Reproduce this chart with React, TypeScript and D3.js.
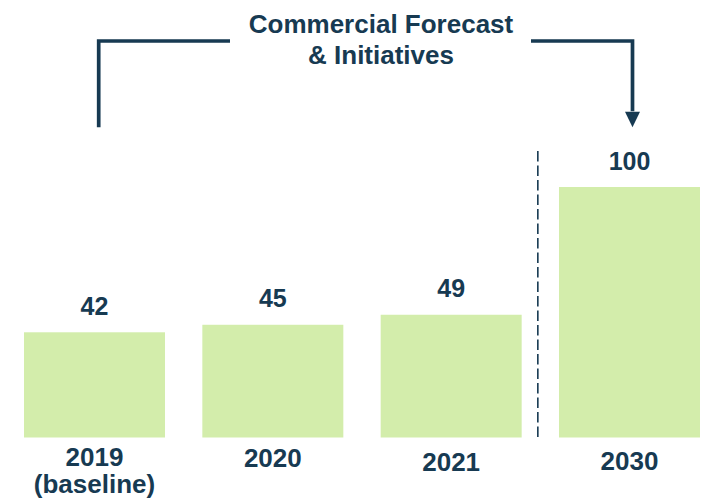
import React from "react";
import * as d3 from "d3";

const categories = ["2019", "2020", "2021", "2030"];
const subLabels = ["(baseline)", "", "", ""];
const values = [42, 45, 49, 100];
const titleLines = ["Commercial Forecast", "& Initiatives"];

const W = 718;
const H = 504;
const NAVY = "#173a52";
const GREEN = "#d3edab";
const FONT = "'Liberation Sans', Arial, Helvetica, sans-serif";
// small per-label vertical nudges seen in the reference
const labelBaselines = [465.7, 466.7, 471.2, 470.2];

export default function App() {
  const x = d3
    .scaleBand<string>()
    .domain(categories)
    .range([5.33, 718.67])
    .paddingInner(0.2094)
    .paddingOuter(0.1047);
  const y = d3.scaleLinear().domain([0, 100]).range([437.5, 187]);

  const bw = x.bandwidth();
  const x2021 = (x("2021") as number) + bw;
  const x2030 = x("2030") as number;
  const dividerX = (x2021 + x2030) / 2 - 2.5;

  const leftX = 98.7;
  const rightX = 632.5;
  const topY = 41;
  const bottomY = 127.3;

  return (
    <svg
      width={W}
      height={H}
      viewBox={`0 0 ${W} ${H}`}
      style={{ position: "absolute", left: 0, top: 0, background: "#fff" }}
      fontFamily={FONT}
      fontWeight="bold"
    >
      <rect x={0} y={0} width={W} height={H} fill="#fff" />
      {/* title */}
      <text textAnchor="middle" fill={NAVY} fontSize={26}>
        {titleLines.map((t, i) => (
          <tspan key={i} x={381} y={32.5 + i * 31.5}>
            {t}
          </tspan>
        ))}
      </text>
      {/* bracket */}
      <path
        d={`M${leftX},${bottomY} V${topY} H230`}
        fill="none"
        stroke={NAVY}
        strokeWidth={3.7}
        strokeLinejoin="miter"
      />
      <path
        d={`M531,${topY} H${rightX} V${bottomY - 16}`}
        fill="none"
        stroke={NAVY}
        strokeWidth={3.7}
        strokeLinejoin="miter"
      />
      <path
        d={`M${rightX - 7.5},${bottomY - 15.6} L${rightX + 7.5},${bottomY - 15.6} L${rightX},${bottomY} Z`}
        fill={NAVY}
      />
      {/* divider */}
      <line
        x1={dividerX}
        x2={dividerX}
        y1={151}
        y2={437}
        stroke={NAVY}
        strokeWidth={1.6}
        strokeDasharray="10.5,4"
      />
      {/* bars */}
      {categories.map((c, i) => {
        const bx = x(c) as number;
        const cx = bx + bw / 2;
        return (
          <g key={c}>
            <rect
              x={bx}
              y={y(values[i])}
              width={bw}
              height={y(0) - y(values[i])}
              fill={GREEN}
            />
            <text
              x={cx}
              y={y(values[i]) - 17.5}
              textAnchor="middle"
              fill={NAVY}
              fontSize={25}
            >
              {values[i]}
            </text>
            <text textAnchor="middle" fill={NAVY} fontSize={26}>
              <tspan x={cx} y={labelBaselines[i]}>
                {c}
              </tspan>
              {subLabels[i] ? (
                <tspan x={cx} y={labelBaselines[i] + 27}>
                  {subLabels[i]}
                </tspan>
              ) : null}
            </text>
          </g>
        );
      })}
    </svg>
  );
}
